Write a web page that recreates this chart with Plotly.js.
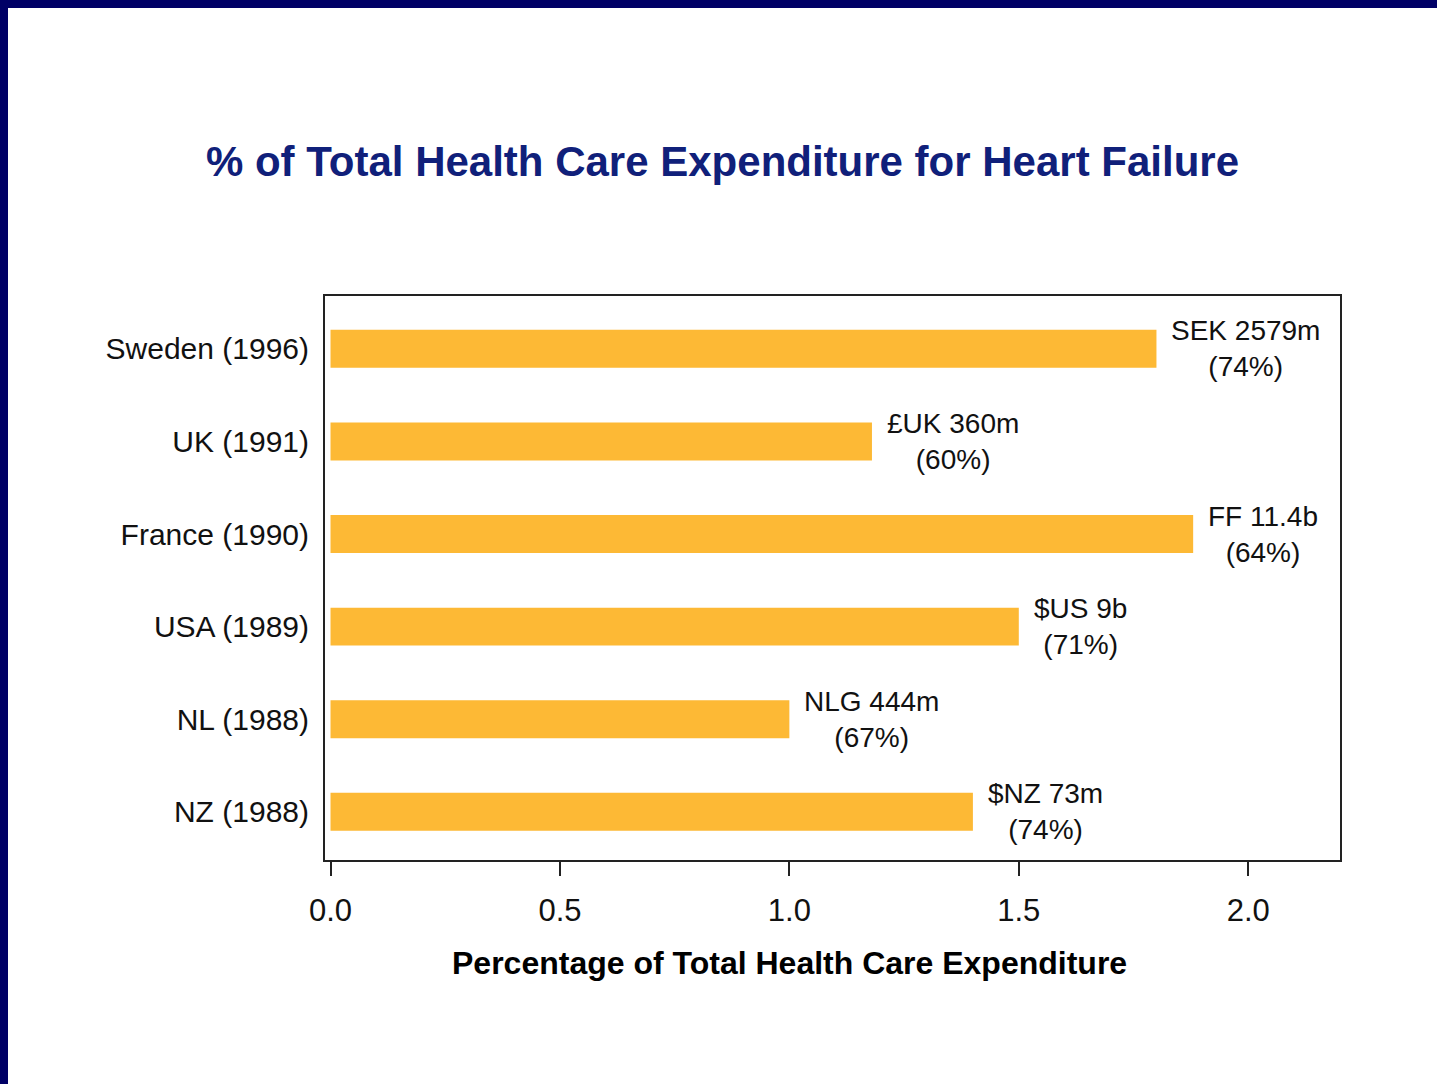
<!DOCTYPE html>
<html>
<head>
<meta charset="utf-8">
<script src="https://cdn.plot.ly/plotly-3.0.1.min.js"></script>
<style>
  html, body { margin: 0; padding: 0; background: #000066; width: 1437px; height: 1084px; overflow: hidden; }
  #chart { position: absolute; left: 8px; top: 8px; width: 1429px; height: 1076px; background: #ffffff; }
</style>
</head>
<body>
<div id="chart"></div>
<script>
// Data (bottom to top order as drawn)
const categories = ["NZ (1988)", "NL (1988)", "USA (1989)", "France (1990)", "UK (1991)", "Sweden (1996)"];
const percentValues = [1.4, 1.0, 1.5, 1.88, 1.18, 1.8];
const costLabels = ["$NZ 73m", "NLG 444m", "$US 9b", "FF 11.4b", "£UK 360m", "SEK 2579m"];
const shareLabels = ["(74%)", "(67%)", "(71%)", "(64%)", "(60%)", "(74%)"];
const xTickVals = [0, 0.5, 1.0, 1.5, 2.0];
const xTickText = ["0.0", "0.5", "1.0", "1.5", "2.0"];

const FONT = "Liberation Sans, Arial, Helvetica, sans-serif";

const trace = {
  type: "bar",
  orientation: "h",
  x: percentValues,
  y: categories,
  width: 0.41,
  marker: { color: "#fdb935", line: { width: 0 } },
  hoverinfo: "x+y"
};

const annotations = categories.map((c, i) => ({
  x: percentValues[i],
  y: c,
  xref: "x",
  yref: "y",
  text: costLabels[i] + "<br>" + shareLabels[i],
  showarrow: false,
  xanchor: "left",
  yanchor: "middle",
  align: "center",
  xshift: 13,
  font: { family: FONT, size: 28, color: "#111111" }
}));

const H = 1076, mt = 288, mb = 224;
const plotH = H - mt - mb;

annotations.push({
  x: 1.0,
  xref: "x",
  y: (H - mb - (963 - 8)) / plotH,
  yref: "paper",
  xanchor: "center",
  yanchor: "middle",
  text: "<b>Percentage of Total Health Care Expenditure</b>",
  showarrow: false,
  font: { family: FONT, size: 32, color: "#000000" }
});

const layout = {
  width: 1429,
  height: 1076,
  paper_bgcolor: "#ffffff",
  plot_bgcolor: "#ffffff",
  margin: { l: 317, r: 97, t: mt, b: mb, pad: 0 },
  showlegend: false,
  title: {
    text: "<b>% of Total Health Care Expenditure for Heart Failure</b>",
    font: { family: FONT, size: 42, color: "#10207a" },
    x: 0.5,
    xanchor: "center",
    y: 1 - (161 - 8) / H,
    yanchor: "middle"
  },
  xaxis: {
    range: [-0.012, 2.2],
    tickvals: xTickVals,
    ticktext: xTickText,
    ticks: "outside",
    ticklen: 14,
    tickwidth: 2,
    tickcolor: "#222222",
    showline: true,
    linecolor: "#222222",
    linewidth: 2,
    mirror: true,
    showgrid: false,
    zeroline: false,
    ticklabelstandoff: 8,
    tickfont: { family: FONT, size: 31, color: "#111111" },
    fixedrange: true
  },
  yaxis: {
    type: "category",
    categoryorder: "array",
    categoryarray: categories,
    range: [-0.52, 5.57],
    ticks: "",
    showline: true,
    linecolor: "#222222",
    linewidth: 2,
    mirror: true,
    showgrid: false,
    zeroline: false,
    ticklabelstandoff: 8,
    tickfont: { family: FONT, size: 30, color: "#111111" },
    fixedrange: true
  },
  annotations: annotations
};

Plotly.newPlot("chart", [trace], layout, { displayModeBar: false, staticPlot: true });
</script>
</body>
</html>
